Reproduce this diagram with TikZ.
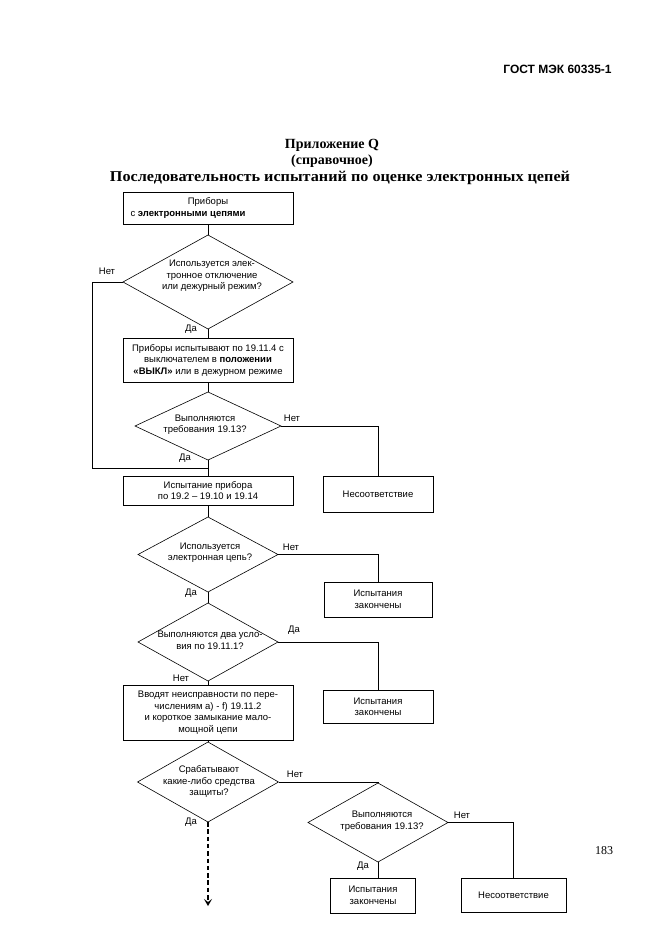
\documentclass[tikz,border=0pt]{standalone}
\usepackage{fontspec}
\setmainfont{Liberation Sans}
\newfontfamily\titlefont{Liberation Serif}
\usetikzlibrary{shapes.geometric,arrows.meta}
\newcommand\boxfont{\fontsize{9.5pt}{11.5pt}\selectfont}
\begin{document}
\begin{tikzpicture}[x=1pt,y=-1pt,
  box/.style={draw, line width=0.6pt, inner sep=0pt, outer sep=0pt, align=center, font=\boxfont},
  dia/.style={draw, diamond, line width=0.6pt, inner sep=0pt, outer sep=0pt},
  txt/.style={align=center, font=\boxfont, inner sep=0pt},
  lbl/.style={font=\boxfont, inner sep=0pt},
  conn/.style={line width=0.6pt},
  ttl/.style={font=\titlefont\bfseries\fontsize{14pt}{17pt}\selectfont, inner sep=0pt}]
\fill[white] (0,0) rectangle (661,936);
\useasboundingbox (0,0) rectangle (661,936);

% header, title, page number
\node[font=\bfseries\fontsize{12pt}{14pt}\selectfont, inner sep=0pt] (hdr) at (557.5,69) {ГОСТ МЭК 60335-1};
\node[ttl] (t1) at (332,145) {Приложение Q};
\node[ttl] (t2) at (332,161) {(справочное)};
\node[ttl, font=\titlefont\bfseries\fontsize{15pt}{17pt}\selectfont] (t3) at (340,178) {\scalebox{1.08}[1]{Последовательность испытаний по оценке электронных цепей}};
\node[font=\titlefont\fontsize{12pt}{14pt}\selectfont, inner sep=0pt] (pg) at (604,851) {183};

% boxes
\node[box, minimum width=170pt, minimum height=32pt] (b1) at (208,208) {Приборы\\с \textbf{электронными цепями}\rule{40pt}{0pt}};
\node[box, minimum width=170pt, minimum height=44pt] (b2) at (208,360) {Приборы испытывают по 19.11.4 с\\выключателем в \textbf{положении}\\\textbf{«ВЫКЛ»} или в дежурном режиме};
\node[box, minimum width=170pt, minimum height=29pt] (b3) at (208,490.5) {Испытание прибора\\по 19.2 -- 19.10 и 19.14};
\node[box, minimum width=110pt, minimum height=36pt] (b4) at (378,494) {Несоответствие};
\node[box, minimum width=108pt, minimum height=35pt] (b5) at (378,599.5) {Испытания\\закончены};
\node[box, minimum width=110pt, minimum height=33pt] (b6) at (378,707) {Испытания\\закончены};
\node[box, minimum width=170pt, minimum height=55pt] (b7) at (208,712.5) {Вводят неисправности по пере-\\числениям а) - f) 19.11.2\\и короткое замыкание мало-\\мощной цепи};
\node[box, minimum width=85pt, minimum height=35pt] (b8) at (373,895.5) {Испытания\\закончены};
\node[box, minimum width=105pt, minimum height=34pt] (b9) at (513.5,895) {Несоответствие};

% diamonds
\node[dia, minimum width=170pt, minimum height=94pt] (d1) at (208,282) {};
\node[txt] (d1t) at (212,276) {Используется элек-\\тронное отключение\\или дежурный режим?};
\node[dia, minimum width=146pt, minimum height=68pt] (d2) at (208,426) {};
\node[txt] (d2t) at (205,424.5) {Выполняются\\требования 19.13?};
\node[dia, minimum width=140pt, minimum height=75pt] (d3) at (208,554.5) {};
\node[txt] (d3t) at (210,552.5) {Используется\\электронная цепь?};
\node[dia, minimum width=140pt, minimum height=78pt] (d4) at (208,642) {};
\node[txt] (d4t) at (210,640.5) {Выполняются два усло-\\вия по 19.11.1?};
\node[dia, minimum width=141pt, minimum height=80pt] (d5) at (208,782) {};
\node[txt] (d5t) at (209,781.5) {Срабатывают\\какие-либо средства\\защиты?};
\node[dia, minimum width=140pt, minimum height=79pt] (d6) at (378,822.5) {};
\node[txt] (d6t) at (382,821) {Выполняются\\требования 19.13?};

% labels
\node[lbl] (l1) at (107,271) {Нет};
\node[lbl] (l2) at (191,329) {Да};
\node[lbl] (l3) at (292,418) {Нет};
\node[lbl] (l4) at (185,458) {Да};
\node[lbl] (l5) at (291,547) {Нет};
\node[lbl] (l6) at (191,593) {Да};
\node[lbl] (l7) at (294,630) {Да};
\node[lbl] (l8) at (181,678) {Нет};
\node[lbl] (l9) at (295,774) {Нет};
\node[lbl] (l10) at (191,822) {Да};
\node[lbl] (l11) at (462,815) {Нет};
\node[lbl] (l12) at (363,866) {Да};

% connectors
\coordinate (lp) at (92,468);
\coordinate (j1) at (208,468);
\coordinate (endarr) at (208,906);
\draw[conn] (b1.south) -- (d1.north);
\draw[conn] (d1.south) -- (b2.north);
\draw[conn] (d1.west) -| (lp) -- (j1);
\draw[conn] (b2.south) -- (d2.north);
\draw[conn] (d2.south) -- (b3.north);
\draw[conn] (d2.east) -| (b4.north);
\draw[conn] (b3.south) -- (d3.north);
\draw[conn] (d3.east) -| (b5.north);
\draw[conn] (d3.south) -- (d4.north);
\draw[conn] (d4.east) -| (b6.north);
\draw[conn] (d4.south) -- (b7.north);
\draw[conn] (b7.south) -- (d5.north);
\draw[conn] (d5.east) -| (d6.north);
\draw[conn] (d6.east) -| (b9.north);
\draw[conn] (d6.south) -- (d6.south |- b8.north);
\draw[line width=1.6pt, dash pattern=on 4.5pt off 2.8pt, -{Stealth[length=7pt,width=8pt,inset=3pt]}] (d5.south) -- (endarr);
\end{tikzpicture}
\end{document}
